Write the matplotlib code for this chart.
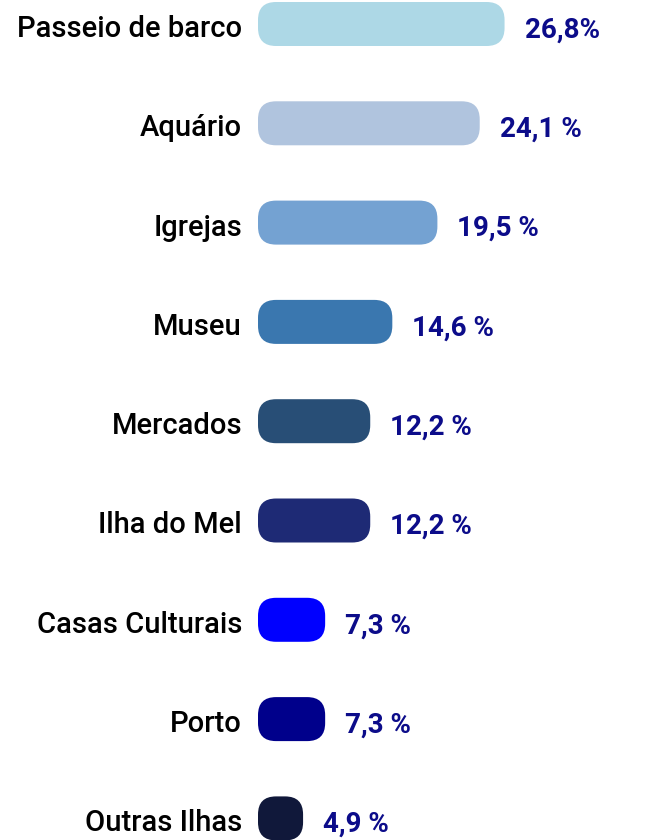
import matplotlib
matplotlib.use("Agg")
import matplotlib.pyplot as plt
from matplotlib.patches import FancyBboxPatch
import matplotlib.transforms as mtransforms

categories = ["Passeio de barco", "Aquário", "Igrejas", "Museu", "Mercados",
              "Ilha do Mel", "Casas Culturais", "Porto", "Outras Ilhas"]
values = [26.8, 24.1, 19.5, 14.6, 12.2, 12.2, 7.3, 7.3, 4.9]
value_labels = ["26,8%", "24,1 %", "19,5 %", "14,6 %", "12,2 %",
                "12,2 %", "7,3 %", "7,3 %", "4,9 %"]
colors = ["#ADD8E6", "#B0C4DE", "#74A2D2", "#3A77AF", "#284E76",
          "#1E2A75", "#0000FF", "#00008B", "#10183A"]

W, H, DPI = 647, 840, 100
PX_X = 9.2      # pixels per percentage point
PX_Y = 99.3     # pixels between bar centres
X0 = 258        # pixel where bars start
Y0 = 24         # pixel centre of first bar
BAR_H = 44 / PX_Y
RADIUS_PX = 18

plt.rcParams["font.family"] = ["Roboto", "DejaVu Sans"]

fig = plt.figure(figsize=(W / DPI, H / DPI), dpi=DPI)
ax = fig.add_axes([0, 0, 1, 1])
ax.set_xlim(-X0 / PX_X, (W - X0) / PX_X)
ax.set_ylim((H - Y0) / PX_Y, -Y0 / PX_Y)
ax.axis("off")

for i, (cat, val, lab, col) in enumerate(zip(categories, values, value_labels, colors)):
    box = FancyBboxPatch((0, i - BAR_H / 2), val, BAR_H,
                         boxstyle=f"round,pad=0,rounding_size={RADIUS_PX / PX_X}",
                         mutation_aspect=PX_X / PX_Y,
                         facecolor=col, edgecolor="none")
    ax.add_patch(box)

    left = mtransforms.offset_copy(ax.transData, fig=fig, x=-16, y=-5, units="dots")
    ax.text(0, i, cat, transform=left, ha="right", va="center",
            fontsize=21, fontweight="medium", color="black")

    right = mtransforms.offset_copy(ax.transData, fig=fig, x=20, y=-6, units="dots")
    ax.text(val, i, lab, transform=right, ha="left", va="center",
            fontsize=20, fontweight="bold", color="#0C0C8A")

fig.savefig("out.png", dpi=DPI)
